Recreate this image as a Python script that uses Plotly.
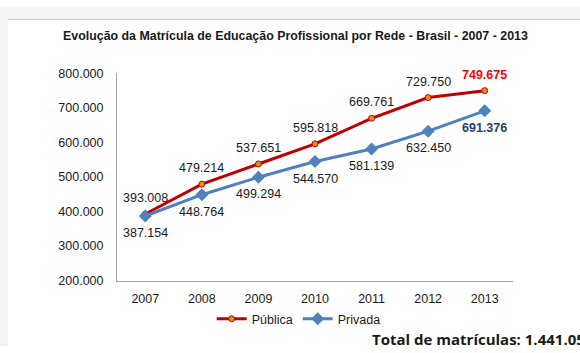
import plotly.graph_objects as go

# Enrollment in vocational education by network, Brazil
years = ["2007", "2008", "2009", "2010", "2011", "2012", "2013"]
publica = [393008, 479214, 537651, 595818, 669761, 729750, 749675]
privada = [387154, 448764, 499294, 544570, 581139, 632450, 691376]
y_ticks = [200000, 300000, 400000, 500000, 600000, 700000, 800000]

W, H = 580, 353


def px_x(x):
    return x / W


def px_y(y):
    return 1 - y / H


def fmt(v):
    return f"{v:,d}".replace(",", ".")


RED = "#C00000"
BLUE = "#4F81BD"
TEXT = "#1a1a1a"

fig = go.Figure()

fig.add_trace(go.Scatter(
    x=years, y=publica, name="Pública", mode="lines+markers",
    line=dict(color=RED, width=3),
    marker=dict(symbol="circle", size=6, color="#E48B1E", line=dict(color=RED, width=1)),
    cliponaxis=False,
))

fig.add_trace(go.Scatter(
    x=years, y=privada, name="Privada", mode="lines+markers",
    line=dict(color=BLUE, width=3),
    marker=dict(symbol="diamond", size=10, color=BLUE),
    cliponaxis=False,
))

# Value labels: Pública above its points, Privada below; last year in bold.
# On a category axis annotations are placed by category index.
annotations = []
last = len(years) - 1
for i, v in enumerate(publica):
    bold = i == last
    annotations.append(dict(
        x=i, y=v, xref="x", yref="y", yshift=16, showarrow=False,
        text=f"<b>{fmt(v)}</b>" if bold else fmt(v),
        font=dict(family="Arial", size=12.5, color="#FF0000" if bold else TEXT),
    ))
for i, v in enumerate(privada):
    bold = i == last
    annotations.append(dict(
        x=i, y=v, xref="x", yref="y", yshift=-17, showarrow=False,
        text=f"<b>{fmt(v)}</b>" if bold else fmt(v),
        font=dict(family="Arial", size=12.5, color="#1F3F6E" if bold else TEXT),
    ))

annotations += [
    dict(text="<b>Evolução da Matrícula de Educação Profissional por Rede - Brasil - 2007 - 2013</b>",
         xref="paper", yref="paper", x=px_x(295), y=px_y(30),
         xanchor="center", yanchor="middle", showarrow=False,
         font=dict(family="Arial", size=12.4, color=TEXT)),
    dict(text="<b>Total de matrículas: 1.441.051</b>",
         xref="paper", yref="paper", x=px_x(370), y=px_y(346),
         xanchor="left", yanchor="middle", showarrow=False,
         font=dict(family="Open Sans", size=15, color=TEXT)),
]

fig.update_layout(
    width=W, height=H,
    margin=dict(l=0, r=0, t=0, b=0),
    paper_bgcolor="white", plot_bgcolor="white",
    separators=",.",
    font=dict(family="Arial", color=TEXT),
    showlegend=True,
    legend=dict(orientation="h", x=0.515, xanchor="center",
                y=px_y(325), yanchor="middle",
                font=dict(family="Arial", size=12.5, color=TEXT),
                itemwidth=30, tracegroupgap=0),
    xaxis=dict(type="category", domain=[px_x(117), px_x(513)], range=[-0.5, 6.5],
               showline=True, linecolor="#a6a6a6", linewidth=1,
               ticks="", showgrid=False, zeroline=False,
               ticklabelstandoff=6,
               tickfont=dict(family="Arial", size=12.5, color=TEXT)),
    yaxis=dict(domain=[px_y(285), px_y(69)], range=[200000, 800000],
               tickvals=y_ticks, tickformat=",d",
               showline=True, linecolor="#a6a6a6", linewidth=1,
               ticks="", showgrid=False, zeroline=False,
               ticklabelstandoff=10,
               tickfont=dict(family="Arial", size=12.5, color=TEXT)),
    shapes=[
        dict(type="rect", xref="paper", yref="paper", x0=0, x1=1,
             y0=px_y(13), y1=1, fillcolor="#f3f3f3", line=dict(width=0), layer="below"),
        dict(type="rect", xref="paper", yref="paper", x0=0, x1=px_x(8),
             y0=0, y1=1, fillcolor="#f3f3f3", line=dict(width=0), layer="below"),
        dict(type="line", xref="paper", yref="paper", x0=px_x(8), x1=1,
             y0=px_y(13), y1=px_y(13), line=dict(color="#cfcfcf", width=1)),
    ],
    annotations=annotations,
)

fig.write_html("out.html")
